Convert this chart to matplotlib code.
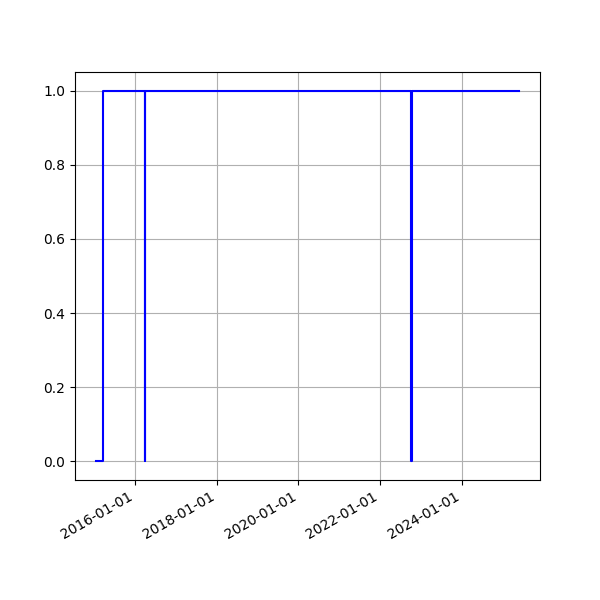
import matplotlib
matplotlib.use("Agg")
import matplotlib.pyplot as plt
import matplotlib.dates as mdates
import numpy as np

# state changes (step, held until next date)
dates = np.array(["2015-01-19", "2015-03-22", "2016-03-28", "2016-03-29",
                  "2022-10-08", "2022-10-09", "2025-05-25"], dtype="datetime64[D]")
values = [0, 1, 0, 1, 0, 1, 1]

fig, ax = plt.subplots(figsize=(6, 6), dpi=100)
ax.plot(dates, values, color="blue", drawstyle="steps-post", linewidth=1.5)
ax.xaxis.set_major_locator(mdates.YearLocator(2))
ax.xaxis.set_major_formatter(mdates.DateFormatter("%Y-%m-%d"))
ax.grid(True)
fig.autofmt_xdate()
fig.savefig("out.png", dpi=100)
